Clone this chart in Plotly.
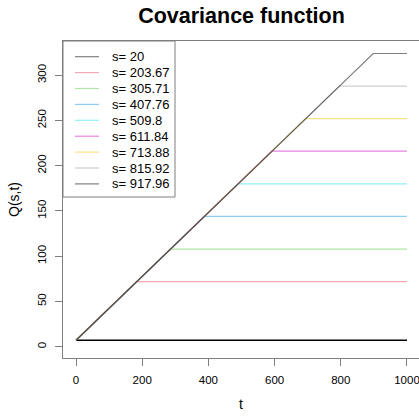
import plotly.graph_objects as go

# Covariance Q(s, t) of the process for a set of fixed s, plotted against t
s_values = [20, 203.67, 305.71, 407.76, 509.8, 611.84, 713.88, 815.92, 917.96]
s_labels = ["s= 20", "s= 203.67", "s= 305.71", "s= 407.76", "s= 509.8",
            "s= 611.84", "s= 713.88", "s= 815.92", "s= 917.96"]
q_plateau = [7.07, 71.9, 107.9, 143.9, 180.0, 216.0, 252.0, 288.0, 324.0]
q_start = 7.07
t_first = 20          # first time of the grid; t axis counts from it
t_end = 1000

palette = ["#000000", "#DF536B", "#61D04F", "#2297E6", "#28E2E5",
           "#CD0BBC", "#F5C710", "#9E9E9E", "#000000"]
alpha = 0.5

x_ticks = [0, 200, 400, 600, 800, 1000]
y_ticks = [0, 50, 100, 150, 200, 250, 300]


def rgba(hex_col, a):
    h = hex_col.lstrip("#")
    r, g, b = int(h[0:2], 16), int(h[2:4], 16), int(h[4:6], 16)
    return f"rgba({r},{g},{b},{a})"


fig = go.Figure()
for i, (s, q) in enumerate(zip(s_values, q_plateau)):
    col = rgba(palette[i], 1.0 if i == 0 else alpha)
    fig.add_trace(go.Scatter(
        x=[0, s - t_first, t_end],
        y=[q_start, q, q],
        mode="lines",
        line=dict(color=col, width=1.6 if i == 0 else 1.2),
        name=s_labels[i],
        showlegend=False,
        hoverinfo="skip",
    ))

W, H = 419, 417
ml, mr, mt, mb = 63, 0, 41, 59
pw, ph = W - ml - mr, H - mt - mb


def px_x(p):
    return (p - ml) / pw


def px_y(p):
    return (H - mb - p) / ph


shapes = []
annotations = []

# legend box in the top-left corner of the plot
shapes.append(dict(type="rect", xref="paper", yref="paper",
                   x0=px_x(63), x1=px_x(175), y0=px_y(197), y1=px_y(41),
                   line=dict(color="#7f7f7f", width=1), fillcolor="white"))
for i, lab in enumerate(s_labels):
    yc = 56.7 + i * 15.9
    shapes.append(dict(type="line", xref="paper", yref="paper",
                       x0=px_x(75), x1=px_x(99), y0=px_y(yc), y1=px_y(yc),
                       line=dict(color=rgba(palette[i], alpha), width=1.2)))
    annotations.append(dict(text=lab, xref="paper", yref="paper",
                            x=px_x(110), y=px_y(yc), xanchor="left",
                            yanchor="middle", showarrow=False,
                            font=dict(size=13, color="black")))

axis_col = "#7f7f7f"
fig.update_layout(
    width=W, height=H,
    margin=dict(l=ml, r=mr, t=mt, b=mb),
    plot_bgcolor="white", paper_bgcolor="white",
    font=dict(family="Liberation Sans, Arial, sans-serif", color="black"),
    title=dict(text="<b>Covariance function</b>", x=px_x(241.5),
               xref="paper", xanchor="center", y=1 - 15 / H, yref="container",
               yanchor="middle", font=dict(size=21.5, color="black")),
    xaxis=dict(range=[-39.3, 1036.3], tickvals=x_ticks, ticks="outside",
               ticklen=7, tickcolor=axis_col, showline=True, mirror=True,
               linecolor=axis_col, linewidth=1, showgrid=False, zeroline=False,
               tickfont=dict(size=11.5), ticklabelstandoff=4,
               ticklabeloverflow="allow",
               title=dict(text="t", font=dict(size=14), standoff=14)),
    yaxis=dict(range=[-12.5, 337.8], tickvals=y_ticks, ticks="outside",
               ticklen=7, tickcolor=axis_col, showline=True, mirror=False,
               linecolor=axis_col, linewidth=1, showgrid=False, zeroline=False,
               tickfont=dict(size=11.5), tickangle=-90, ticklabelstandoff=4,
               title=dict(text="Q(s,t)", font=dict(size=14), standoff=13)),
    shapes=shapes,
    annotations=annotations,
)

fig.write_html("out.html")
